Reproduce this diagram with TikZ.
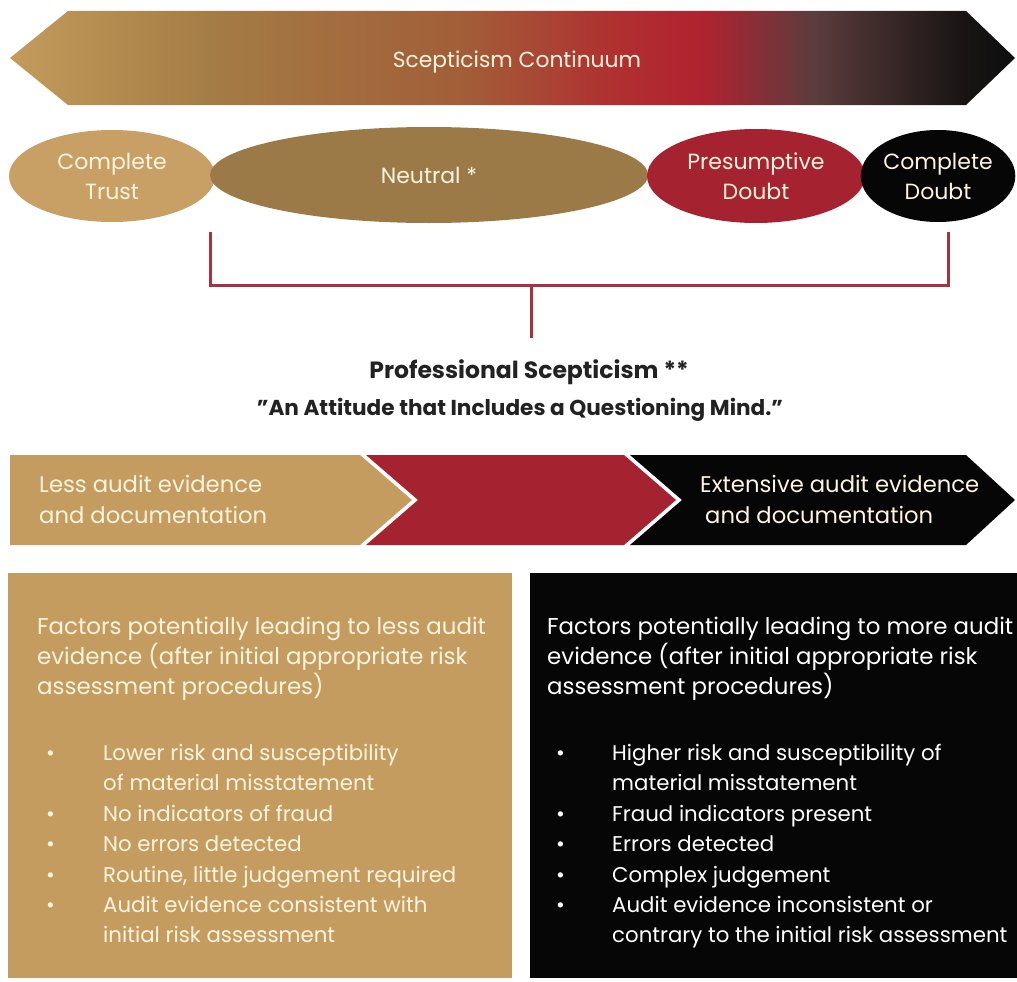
\documentclass[tikz,border=0pt]{standalone}
\usepackage{fontspec}
\setmainfont{Poppins}
\usetikzlibrary{shapes.geometric}
\definecolor{tanbox}{HTML}{C49C60}
\definecolor{tanoval}{HTML}{C8A066}
\definecolor{neutral}{HTML}{9C7A48}
\definecolor{redc}{HTML}{A52230}
\definecolor{blackc}{HTML}{060606}
\definecolor{cream}{HTML}{FFF4DE}
\definecolor{bracket}{HTML}{A8323F}
\definecolor{darktext}{HTML}{222222}
\definecolor{gA}{HTML}{C39B5B}
\definecolor{gB}{HTML}{A47C45}
\definecolor{gC}{HTML}{A25E38}
\definecolor{gD}{HTML}{B03030}
\definecolor{gE}{HTML}{B02230}
\definecolor{gF}{HTML}{5C3C3C}
\definecolor{gG}{HTML}{181414}
\definecolor{gH}{HTML}{0E0E0E}
\pgfdeclarehorizontalshading{scep}{100bp}{color(0bp)=(gA); color(25bp)=(gA); color(35bp)=(gB); color(47.5bp)=(gC); color(55bp)=(gD); color(59.5bp)=(gE); color(65bp)=(gF); color(72.5bp)=(gG); color(75bp)=(gH); color(100bp)=(gH)}
\begin{document}
\begin{tikzpicture}[x=1pt,y=-1pt,
  txt/.style={inner sep=0pt},
  oval/.style={ellipse, inner sep=0pt, draw=none, text=cream, align=center, font=\fontsize{22}{30}\selectfont},
  brk/.style={draw=bracket, line width=3pt},
  headfont/.style={font=\fontsize{22.9}{29.8}\selectfont},
  listfont/.style={font=\fontsize{21.3}{30.4}\selectfont},
  chevfont/.style={font=\fontsize{22.7}{31}\selectfont}]
\useasboundingbox[fill=white] (0,0) rectangle (1017,982);
% top continuum arrow
\path[shading=scep] (10,58) -- (68,11) -- (966,11) -- (1015,58) -- (966,105) -- (68,105) -- cycle;
\node[txt, text=cream, font=\fontsize{21.8}{28}\selectfont] (cont) at (517,62) {Scepticism Continuum};
% ovals
\node[oval, fill=tanoval, minimum width=206pt, minimum height=92pt] (trust) at (112,176) {Complete\\Trust};
\node[oval, fill=neutral, minimum width=438pt, minimum height=96pt] (neutral) at (429,175) {Neutral *};
\node[oval, fill=redc, minimum width=218pt, minimum height=94pt] (presum) at (756,176) {Presumptive\\Doubt};
\node[oval, fill=blackc, minimum width=154pt, minimum height=92pt] (cdoubt) at (938,176) {Complete\\Doubt};
% bracket
\coordinate (bL) at (210,232);
\coordinate (bR) at (948,232);
\coordinate (bM) at (531,285);
\coordinate (bS) at (531,338);
\draw[brk] (bL) |- (bM) -| (bR);
\draw[brk] (bM) -- (bS);
% professional scepticism
\node[txt, text=darktext, font=\fontsize{23.5}{29}\selectfont\bfseries] (prof) at (529,372) {Professional Scepticism **};
\node[txt, text=darktext, font=\fontsize{21.6}{29}\selectfont\bfseries] (att) at (520,410) {''An Attitude that Includes a Questioning Mind.''};
% chevron row
\fill[tanbox] (10,455) -- (360,455) -- (412,500) -- (360,545) -- (10,545) -- cycle;
\fill[redc] (366,455) -- (624,455) -- (676,500) -- (624,545) -- (366,545) -- (418,500) -- cycle;
\fill[blackc] (630,455) -- (966,455) -- (1015,500) -- (966,545) -- (630,545) -- (682,500) -- cycle;
\node[txt, text=cream, align=left, anchor=west, chevfont] (less) at (39,499) {Less audit evidence\\and documentation};
\node[txt, text=cream, align=left, anchor=west, chevfont] (ext) at (700,499) {Extensive audit evidence\\\hspace*{5pt}and documentation};
% bottom boxes
\fill[tanbox] (8,573) rectangle (512,978);
\fill[blackc] (530,573) rectangle (1017,978);
\node[txt, text=cream, align=left, anchor=north west, headfont] (lhead) at (37,617)
  {Factors potentially leading to less audit\\evidence (after initial appropriate risk\\assessment procedures)};
\node[txt, text=cream, anchor=north west, listfont] (llist) at (46,739)
  {\renewcommand{\arraystretch}{1}\setlength{\tabcolsep}{0pt}%
   \begin{tabular}{@{}p{57pt}@{}l@{}}
   \textbullet & Lower risk and susceptibility\\
   & of material misstatement\\
   \textbullet & No indicators of fraud\\
   \textbullet & No errors detected\\
   \textbullet & Routine, little judgement required\\
   \textbullet & Audit evidence consistent with\\
   & initial risk assessment
   \end{tabular}};
\node[txt, text=white, align=left, anchor=north west, headfont] (rhead) at (547,617)
  {Factors potentially leading to more audit\\evidence (after initial appropriate risk\\assessment procedures)};
\node[txt, text=white, anchor=north west, listfont] (rlist) at (556,739)
  {\renewcommand{\arraystretch}{1}\setlength{\tabcolsep}{0pt}%
   \begin{tabular}{@{}p{56pt}@{}l@{}}
   \textbullet & Higher risk and susceptibility of\\
   & material misstatement\\
   \textbullet & Fraud indicators present\\
   \textbullet & Errors detected\\
   \textbullet & Complex judgement\\
   \textbullet & Audit evidence inconsistent or\\
   & contrary to the initial risk assessment
   \end{tabular}};
\end{tikzpicture}
\end{document}
